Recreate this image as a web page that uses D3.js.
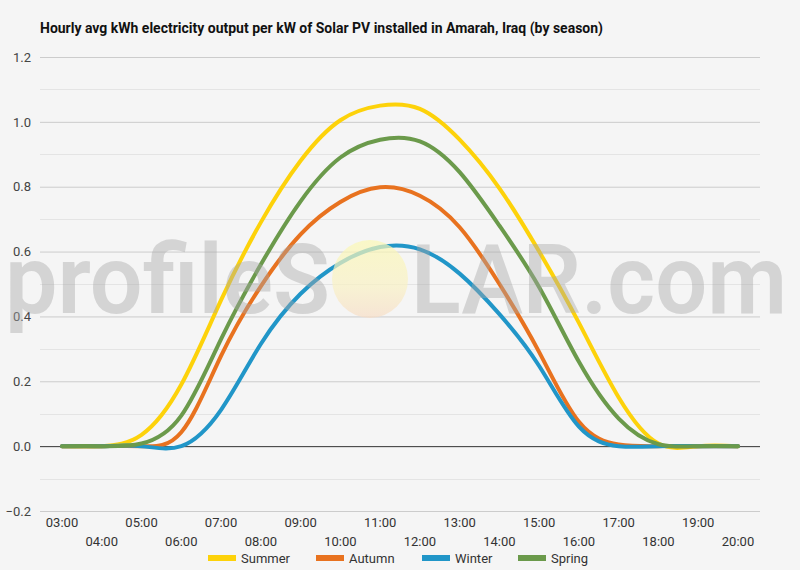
<!DOCTYPE html>
<html>
<head>
<meta charset="utf-8">
<script src="https://cdn.jsdelivr.net/npm/d3@7"></script>
<style>
  html, body { margin: 0; padding: 0; background: #f5f5f5; }
  svg { display: block; }
  text { font-family: Roboto, "Noto Sans", sans-serif; }
</style>
</head>
<body>
<svg id="chart" width="800" height="570"></svg>
<script>
const title = "Hourly avg kWh electricity output per kW of Solar PV installed in Amarah, Iraq (by season)";
const hours = [3,4,5,6,7,8,9,10,11,12,13,14,15,16,17,18,19,20];
const hourLabels = ["03:00","04:00","05:00","06:00","07:00","08:00","09:00","10:00","11:00","12:00","13:00","14:00","15:00","16:00","17:00","18:00","19:00","20:00"];
const yTicks = [-0.2,0,0.2,0.4,0.6,0.8,1.0,1.2];
const yMinor = [-0.1,0.1,0.3,0.5,0.7,0.9,1.1];
const seasons = ["Summer","Autumn","Winter","Spring"];
const summer = [0,0,0.035,0.19,0.45,0.69,0.88,1.005,1.05,1.04,0.945,0.795,0.60,0.38,0.15,0.008,0,0];
const autumn = [0,0,0,0.043,0.278,0.493,0.653,0.753,0.798,0.772,0.675,0.50,0.29,0.075,0.005,0,0,0];
const winter = [0,0,0,0,0.112,0.315,0.47,0.565,0.614,0.607,0.532,0.407,0.247,0.06,0,0,0,0];
const spring = [0,0,0.008,0.094,0.33,0.56,0.755,0.89,0.945,0.94,0.845,0.68,0.49,0.26,0.085,0.006,0,0];
const colors = ["#fdd20a","#e8721f","#2196c8","#6b9a4b"];
const seriesValues = [summer, autumn, winter, spring];

const svg = d3.select("#chart");
svg.append("rect").attr("width",800).attr("height",570).attr("fill","#f5f5f5");

const x = d3.scaleLinear().domain([3,20]).range([62,738]);
const y = d3.scaleLinear().domain([-0.2,1.2]).range([511,57]);
const left = 40, right = 760;

svg.append("text").attr("x",40).attr("y",33)
  .attr("font-size",14).attr("font-weight","bold").attr("fill","#111")
  .attr("textLength",563).attr("lengthAdjust","spacingAndGlyphs")
  .text(title);

svg.append("g").selectAll("line").data(yMinor).join("line")
  .attr("x1",left).attr("x2",right)
  .attr("y1",d=>Math.round(y(d))+0.5).attr("y2",d=>Math.round(y(d))+0.5)
  .attr("stroke","#e4e4e4").attr("stroke-width",1);

const yAxis = d3.axisLeft(y).tickValues(yTicks).tickSize(-(right-left)).tickFormat(d3.format(".1f"));
const gy = svg.append("g").attr("transform",`translate(${left},0)`).call(yAxis);
gy.select(".domain").remove();
gy.selectAll(".tick line").attr("stroke",d=>d===0?"#333":"#cccccc").attr("stroke-width",1);
gy.selectAll(".tick text").attr("x",-9).attr("font-size",13).attr("fill","#444")
  .attr("font-family","Roboto, sans-serif");

const line = d3.line().x((d,i)=>x(hours[i])).y(d=>y(d)).curve(d3.curveNatural);
const gl = svg.append("g");
seriesValues.forEach((vals,k)=>{
  gl.append("path").datum(vals).attr("d",line)
    .attr("fill","none").attr("stroke",colors[k]).attr("stroke-width",4)
    .attr("stroke-linejoin","round").attr("stroke-linecap","round");
});

const wm = svg.append("g").attr("pointer-events","none");
const grad = svg.append("defs").append("linearGradient").attr("id","sun").attr("x1",0).attr("y1",0).attr("x2",0).attr("y2",1);
grad.append("stop").attr("offset","0%").attr("stop-color","#fbf8b4");
grad.append("stop").attr("offset","60%").attr("stop-color","#f9f1c4");
grad.append("stop").attr("offset","100%").attr("stop-color","#f7ddc6");
wm.append("ellipse").attr("cx",370).attr("cy",279).attr("rx",38).attr("ry",39)
  .attr("fill","url(#sun)").attr("opacity",0.7);
wm.append("text").attr("x",5).attr("y",313).attr("font-size",96).attr("font-family","'Open Sans', sans-serif")
  .attr("font-weight",600).attr("fill","#a8a8a8").attr("opacity",0.42)
  .attr("textLength",325).attr("lengthAdjust","spacingAndGlyphs").text("profileS");
wm.append("text").attr("x",411).attr("y",313).attr("font-size",96).attr("font-family","'Open Sans', sans-serif")
  .attr("font-weight",600).attr("fill","#a8a8a8").attr("opacity",0.42)
  .attr("textLength",376).attr("lengthAdjust","spacingAndGlyphs").text("LAR.com");

const gx = svg.append("g");
gx.selectAll("text").data(hours).join("text")
  .attr("x",d=>x(d)).attr("y",(d,i)=> i%2===0 ? 527 : 546)
  .attr("text-anchor","middle").attr("font-size",13).attr("fill","#333")
  .text((d,i)=>hourLabels[i]);

const legendX = [208,316,422,518];
const lg = svg.append("g");
seasons.forEach((s,k)=>{
  lg.append("rect").attr("x",legendX[k]).attr("y",555).attr("width",28).attr("height",6).attr("fill",colors[k]);
  lg.append("text").attr("x",legendX[k]+33).attr("y",563).attr("font-size",13).attr("fill","#333").text(s);
});
</script>
</body>
</html>
